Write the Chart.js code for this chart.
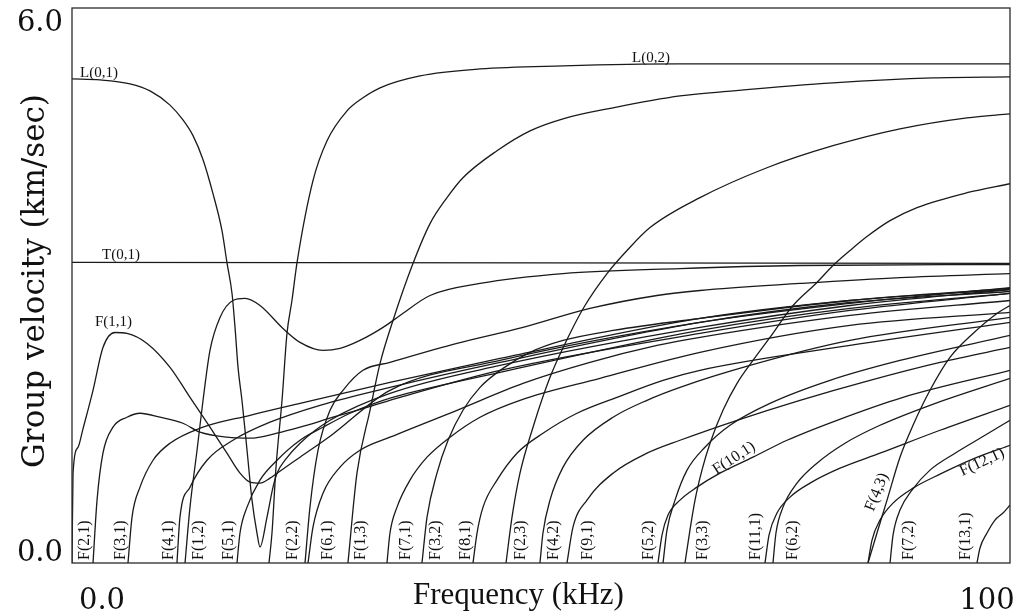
<!DOCTYPE html>
<html>
<head>
<meta charset="utf-8">
<script src="https://cdn.jsdelivr.net/npm/chart.js@4.4.1/dist/chart.umd.min.js"></script>
<style>
html,body{margin:0;padding:0;background:#fff;}
#wrap{width:1017px;height:616px;position:relative;}
</style>
</head>
<body>
<div id="wrap"><canvas id="c" width="1017" height="616"></canvas></div>
<script>
// ---- Axis ranges and tick labels ----
const xRange = [0, 100];
const yRange = [0, 6];
const xTickLabels = ["0.0", "100"];
const yTickLabels = ["0.0", "6.0"];
const xTitle = "Frequency (kHz)";
const yTitle = "Group velocity (km/sec)";

// ---- Curves: [frequency kHz, group velocity km/s] ----
const T01 = [[0,3.25],[100,3.24]];
const L01 = [[0,5.234],[2.99,5.223],[6.18,5.18],[8.32,5.104],[10.45,4.95],[11.83,4.79],[12.9,4.62],[13.97,4.36],[15.03,3.993],[15.99,3.593],[16.52,3.248],[17.06,2.914],[17.38,2.547],[17.7,2.115],[18.12,1.759],[18.66,1.219],[19.19,0.68],[19.72,0.324],[20.04,0.173],[20.79,0.496],[21.43,0.82],[21.86,0.971],[22.71,1.111],[24.31,1.295],[27.51,1.543],[33.9,1.834],[45.63,2.136],[66.95,2.547],[82.94,2.784],[100,2.957]];
const L02 = [[21.0,0],[21.32,0.324],[21.75,1.036],[22.39,1.759],[22.92,2.482],[23.45,2.838],[23.99,3.248],[25.69,4.133],[27.19,4.565],[29.32,4.888],[31.02,5.029],[32.84,5.137],[37.1,5.266],[43.5,5.341],[52.35,5.374],[64.5,5.395],[100,5.395]];
const F11 = [[0,0],[0.11,0.971],[0.64,1.25],[1.17,1.45],[2.24,1.867],[3.3,2.33],[4.58,2.492],[5.86,2.482],[8.0,2.374],[10.45,2.115],[12.58,1.791],[14.71,1.468],[16.52,1.187],[17.91,0.971],[18.98,0.874],[20.04,0.863],[21.11,0.917],[21.86,0.971],[24.31,1.144],[27.51,1.37],[33.9,1.867],[45.63,2.19],[66.95,2.601],[82.94,2.806],[100,2.978]];
const F21 = [[2.24,0],[2.67,0.68],[3.3,1.187],[4.37,1.468],[5.86,1.576],[7.25,1.619],[9.38,1.576],[11.83,1.511],[13.65,1.414],[16.52,1.36],[18.98,1.349],[21.86,1.403],[24.31,1.468],[27.83,1.576],[31.45,1.683],[34.97,1.791],[45.63,2.083],[66.95,2.482],[82.94,2.73],[100,2.914]];
const F31 = [[5.97,0],[6.4,0.496],[7.25,0.82],[8.64,1.111],[10.45,1.295],[13.65,1.457],[18.98,1.597],[24.31,1.726],[33.9,1.953],[45.63,2.212],[66.95,2.644],[82.94,2.838],[100,2.957]];
const F41 = [[11.19,0],[11.51,0.496],[12.58,0.82],[14.39,1.111],[17.16,1.327],[21.11,1.522],[26.44,1.705],[33.9,1.899],[45.63,2.169],[66.95,2.601],[82.94,2.816],[100,2.935]];
const F12 = [[12.05,0],[12.58,0.604],[13.33,1.219],[13.97,1.759],[14.71,2.299],[15.78,2.655],[17.16,2.838],[18.44,2.86],[20.04,2.784],[22.49,2.536],[24.31,2.385],[26.76,2.299],[28.57,2.32],[30.7,2.406],[33.16,2.547],[34.97,2.676],[38.17,2.892],[43.5,3.022],[52.35,3.129],[64.82,3.183],[77.61,3.216],[100,3.227]];
const F51 = [[17.59,0],[17.91,0.324],[18.66,0.604],[20.04,0.896],[21.86,1.111],[24.31,1.327],[26.76,1.468],[29.64,1.619],[33.16,1.759],[34.97,1.813],[45.63,2.061],[66.95,2.514],[82.94,2.752],[100,2.914]];
const F22 = [[24.84,0],[25.37,0.604],[26.23,1.219],[27.51,1.651],[28.89,1.867],[31.02,2.083],[33.9,2.169],[41.04,2.374],[48.08,2.547],[55.22,2.752],[62.37,2.892],[66.95,2.946],[77.61,3.022],[88.27,3.086],[100,3.129]];
const F61 = [[25.16,0],[25.69,0.388],[26.76,0.755],[28.57,1.036],[30.7,1.219],[33.9,1.36],[41.04,1.651],[48.08,1.942],[55.22,2.169],[62.37,2.352],[66.95,2.439],[82.94,2.676],[100,2.838]];
const F13 = [[29.42,0],[30.38,0.971],[31.77,1.651],[32.84,2.158],[34.22,2.622],[36.35,3.237],[38.17,3.669],[39.98,3.95],[41.68,4.165],[45.31,4.457],[48.83,4.672],[52.35,4.802],[57.68,4.921],[64.82,5.05],[70.47,5.104],[81.13,5.19],[91.79,5.244],[100,5.255]];
const F71 = [[33.58,0],[33.9,0.324],[34.65,0.604],[36.03,0.896],[37.85,1.144],[40.3,1.36],[43.5,1.576],[47.76,1.759],[56.29,1.996],[66.95,2.277],[82.94,2.568],[100,2.709]];
const F32 = [[37.31,0],[37.85,0.496],[38.91,0.971],[40.09,1.327],[41.68,1.651],[43.5,1.899],[45.95,2.104],[48.83,2.277],[52.35,2.406],[57.68,2.514],[66.95,2.644],[82.94,2.838],[100,2.968]];
const F81 = [[42.75,0],[43.18,0.324],[43.82,0.604],[45.31,0.896],[47.44,1.187],[50.21,1.403],[53.84,1.619],[58.1,1.791],[63.01,1.975],[66.95,2.083],[82.94,2.352],[100,2.601]];
const F23 = [[46.27,0],[46.91,0.496],[47.76,0.971],[49.15,1.468],[50.96,2.007],[53.09,2.482],[54.69,2.784],[57.04,3.129],[59.17,3.378],[61.62,3.626],[66.95,3.95],[74.09,4.273],[81.13,4.511],[88.27,4.694],[95.42,4.813],[100,4.856]];
const F42 = [[49.89,0],[50.21,0.324],[50.96,0.68],[52.35,1.036],[54.48,1.327],[57.68,1.576],[61.3,1.759],[64.82,1.899],[72.28,2.136],[82.94,2.406],[100,2.655]];
const F91 = [[52.77,0],[53.41,0.388],[54.9,0.68],[57.68,0.971],[61.3,1.187],[64.82,1.327],[70.9,1.543],[77.61,1.759],[85.07,1.975],[92.54,2.169],[100,2.331]];
const F101 = [[62.47,0],[62.9,0.302],[63.54,0.518],[64.82,0.68],[66.63,0.82],[69.08,0.971],[72.6,1.144],[76.23,1.327],[81.56,1.543],[88.59,1.791],[100,2.083]];
const F52 = [[63.01,0],[63.43,0.356],[64.29,0.68],[65.57,1.004],[67.48,1.252],[70.15,1.489],[74.41,1.726],[80.81,1.975],[88.27,2.19],[100,2.46]];
const F33 = [[65.35,0],[65.88,0.356],[66.42,0.68],[67.16,1.004],[68.02,1.295],[69.4,1.651],[70.9,1.942],[72.6,2.19],[74.41,2.439],[76.87,2.784],[79.42,3.033],[81.13,3.216],[82.94,3.378],[84.75,3.529],[87.21,3.701],[90.09,3.842],[95.42,4.003],[100,4.1]];
const F111 = [[73.88,0],[74.31,0.302],[75.16,0.54],[76.55,0.712],[78.68,0.863],[81.88,1.025],[86.14,1.187],[92.54,1.435],[100,1.705]];
const F62 = [[74.73,0],[75.05,0.324],[75.8,0.604],[77.29,0.863],[79.42,1.079],[82.41,1.295],[86.14,1.489],[91.47,1.705],[100,1.996]];
const F43 = [[84.86,0],[85.82,0.324],[86.89,0.68],[88.27,1.144],[89.66,1.489],[91.47,1.867],[93.6,2.223],[96.06,2.482],[98.61,2.698],[100,2.784]];
const F121 = [[84.86,0],[85.29,0.248],[86.14,0.464],[87.53,0.647],[89.66,0.809],[92.54,0.96],[96.27,1.133],[100,1.273]];
const F72 = [[87.21,0],[87.53,0.302],[88.27,0.572],[89.55,0.788],[91.47,1.004],[94.14,1.187],[96.8,1.349],[100,1.543]];
const F131 = [[96.48,0],[96.8,0.162],[97.55,0.324],[98.4,0.464],[99.25,0.54],[100,0.626]];

const curveNames = ["T(0,1)","L(0,1)","L(0,2)","F(1,1)","F(2,1)","F(3,1)","F(4,1)","F(1,2)","F(5,1)","F(2,2)","F(6,1)","F(1,3)","F(7,1)","F(3,2)","F(8,1)","F(2,3)","F(4,2)","F(9,1)","F(10,1)","F(5,2)","F(3,3)","F(11,1)","F(6,2)","F(4,3)","F(12,1)","F(7,2)","F(13,1)"];
const curveData = [T01,L01,L02,F11,F21,F31,F41,F12,F51,F22,F61,F13,F71,F32,F81,F23,F42,F91,F101,F52,F33,F111,F62,F43,F121,F72,F131];

// ---- Curve labels ----
// horizontal labels: [text, x kHz, y km/s]
const flatLabels = [["L(0,1)",0.85,5.255],["L(0,2)",59.7,5.417],["T(0,1)",3.2,3.291],["F(1,1)",2.45,2.557]];
// vertical labels at the foot of the plot: [text, x kHz]
const footLabels = [["F(2,1)",1.33],["F(3,1)",5.17],["F(4,1)",10.29],["F(1,2)",13.49],["F(5,1)",16.68],["F(2,2)",23.51],["F(6,1)",27.24],["F(1,3)",30.81],["F(7,1)",35.61],["F(3,2)",38.81],["F(8,1)",42.0],["F(2,3)",47.87],["F(4,2)",51.39],["F(9,1)",55.01],["F(5,2)",61.51],["F(3,3)",67.22],["F(11,1)",72.92],["F(6,2)",76.81],["F(7,2)",89.18],["F(13,1)",95.31]];
// tilted labels: [text, x kHz, y km/s, angle deg]
const tiltLabels = [["F(10,1)",70.58,1.133,-33],["F(4,3)",85.82,0.766,-68],["F(12,1)",97.01,1.09,-25]];

const ink = "#1a1a1a";

const datasets = curveData.map((arr, i) => ({
  label: curveNames[i],
  data: arr.map(p => ({x: p[0], y: p[1]})),
  borderColor: ink,
  borderWidth: 1.3,
  pointRadius: 0,
  fill: false,
  cubicInterpolationMode: 'monotone'
}));

const decor = {
  id: 'decor',
  afterDatasetsDraw(chart) {
    const {ctx, chartArea: a, scales: {x, y}} = chart;
    ctx.save();
    // frame
    ctx.strokeStyle = "#2a2a2a";
    ctx.lineWidth = 1.3;
    ctx.strokeRect(a.left, a.top, a.right - a.left, a.bottom - a.top);
    ctx.fillStyle = "#111";
    // flat labels
    ctx.font = "15px 'Liberation Serif', serif";
    ctx.textAlign = "left";
    ctx.textBaseline = "alphabetic";
    flatLabels.forEach(l => ctx.fillText(l[0], x.getPixelForValue(l[1]), y.getPixelForValue(l[2])));
    // foot labels (rotated)
    ctx.font = "16px 'Liberation Serif', serif";
    footLabels.forEach(l => {
      ctx.save();
      ctx.translate(x.getPixelForValue(l[1]), y.getPixelForValue(0) - 3);
      ctx.rotate(-Math.PI / 2);
      ctx.textAlign = "left";
      ctx.textBaseline = "middle";
      ctx.fillText(l[0], 0, 0);
      ctx.restore();
    });
    tiltLabels.forEach(l => {
      ctx.save();
      ctx.translate(x.getPixelForValue(l[1]), y.getPixelForValue(l[2]));
      ctx.rotate(l[3] * Math.PI / 180);
      ctx.textAlign = "center";
      ctx.textBaseline = "middle";
      ctx.fillText(l[0], 0, 0);
      ctx.restore();
    });
    // tick labels
    ctx.font = "29px 'DejaVu Serif', serif";
    ctx.textBaseline = "middle";
    ctx.textAlign = "right";
    ctx.fillText(yTickLabels[1], a.left - 9, y.getPixelForValue(yRange[1]) + 15);
    ctx.fillText(yTickLabels[0], a.left - 9, y.getPixelForValue(yRange[0]) - 10);
    ctx.textAlign = "center";
    ctx.fillText(xTickLabels[0], x.getPixelForValue(xRange[0]) + 30, a.bottom + 38);
    ctx.fillText(xTickLabels[1], x.getPixelForValue(xRange[1]) - 23, a.bottom + 38);
    // axis titles
    ctx.font = "31px 'Liberation Serif', serif";
    ctx.textAlign = "center";
    ctx.textBaseline = "alphabetic";
    ctx.fillText(xTitle, x.getPixelForValue(47.6), a.bottom + 41);
    ctx.save();
    ctx.translate(44, 281);
    ctx.rotate(-Math.PI / 2);
    ctx.font = "31px 'DejaVu Serif', serif";
    ctx.fillText(yTitle, 0, 0);
    ctx.restore();
    ctx.restore();
  }
};

new Chart(document.getElementById('c'), {
  type: 'line',
  data: {datasets},
  options: {
    responsive: false,
    devicePixelRatio: 1,
    animation: false,
    layout: {padding: {left: 72, right: 7, top: 8, bottom: 53}},
    plugins: {legend: {display: false}, tooltip: {enabled: false}},
    scales: {
      x: {type: 'linear', min: xRange[0], max: xRange[1], display: false},
      y: {type: 'linear', min: yRange[0], max: yRange[1], display: false}
    }
  },
  plugins: [decor]
});
</script>
</body>
</html>
